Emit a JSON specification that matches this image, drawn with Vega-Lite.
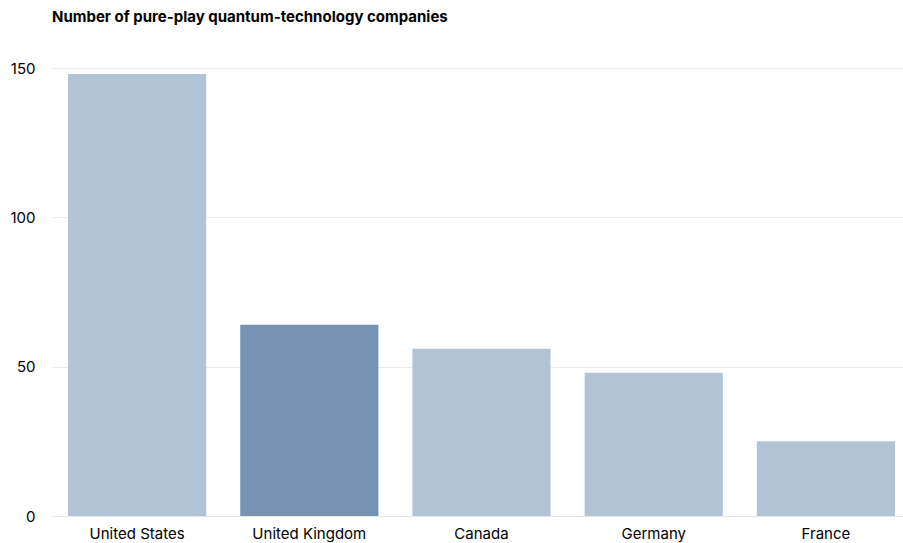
{
  "$schema": "https://vega.github.io/schema/vega-lite/v6.json",
  "width": 851,
  "height": 448,
  "autosize": "none",
  "padding": {"left": 52, "top": 68, "right": 0, "bottom": 27},
  "background": "white",
  "title": {
    "text": "Number of pure-play quantum-technology companies",
    "anchor": "start",
    "frame": "group",
    "font": "Inter",
    "fontSize": 15,
    "fontWeight": "bold",
    "color": "#000000",
    "offset": 36
  },
  "data": {
    "values": [
      {"country": "United States", "companies": 148, "highlight": "no"},
      {"country": "United Kingdom", "companies": 64, "highlight": "yes"},
      {"country": "Canada", "companies": 56, "highlight": "no"},
      {"country": "Germany", "companies": 48, "highlight": "no"},
      {"country": "France", "companies": 25, "highlight": "no"}
    ]
  },
  "mark": {"type": "bar"},
  "encoding": {
    "x": {
      "field": "country",
      "type": "nominal",
      "sort": null,
      "scale": {"paddingInner": 0.1977, "paddingOuter": 0.0698, "align": 0.667},
      "axis": {
        "title": null,
        "labelAngle": 0,
        "labelFont": "Inter",
        "labelFontSize": 15,
        "labelColor": "#000000",
        "labelPadding": 10,
        "ticks": false,
        "domain": true,
        "domainColor": "#e6e6e6",
        "domainWidth": 1
      }
    },
    "y": {
      "field": "companies",
      "type": "quantitative",
      "scale": {"domain": [0, 150]},
      "axis": {
        "title": null,
        "values": [0, 50, 100, 150],
        "labelFont": "Inter",
        "labelFontSize": 15,
        "labelColor": "#000000",
        "labelPadding": 17,
        "ticks": false,
        "domain": false,
        "grid": true,
        "gridColor": "#ebebeb",
        "gridWidth": 1
      }
    },
    "color": {
      "field": "highlight",
      "type": "nominal",
      "scale": {"domain": ["no", "yes"], "range": ["#b2c3d5", "#7793b3"]},
      "legend": null
    }
  },
  "config": {"view": {"stroke": null}}
}
